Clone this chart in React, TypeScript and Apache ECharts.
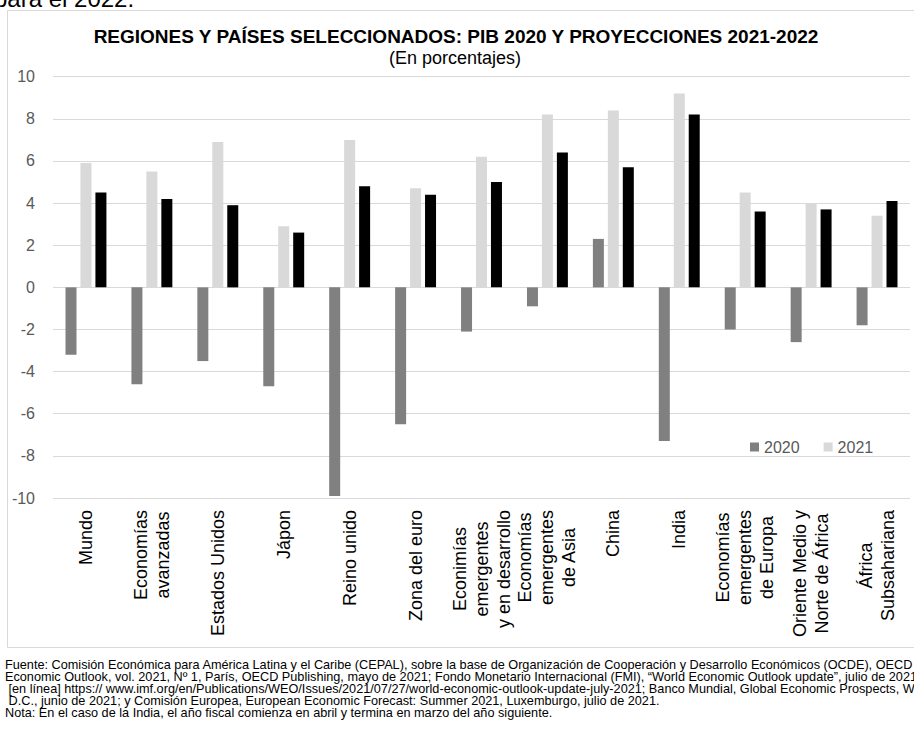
import React, { useEffect, useRef } from 'react';
import * as echarts from 'echarts';

const categories = [
  'Mundo',
  'Economías\navanzadas',
  'Estados Unidos',
  'Jápon',
  'Reino unido',
  'Zona del euro',
  'Econimías\nemergentes\ny en desarrollo',
  'Economías\nemergentes\nde Asia',
  'China',
  'India',
  'Economías\nemergentes\nde Europa',
  'Oriente Medio y\nNorte de África',
  'África\nSubsahariana',
];
const pib2020 = [-3.2, -4.6, -3.5, -4.7, -9.9, -6.5, -2.1, -0.9, 2.3, -7.3, -2.0, -2.6, -1.8];
const pib2021 = [5.9, 5.5, 6.9, 2.9, 7.0, 4.7, 6.2, 8.2, 8.4, 9.2, 4.5, 4.0, 3.4];
const pib2022 = [4.5, 4.2, 3.9, 2.6, 4.8, 4.4, 5.0, 6.4, 5.7, 8.2, 3.6, 3.7, 4.1];
const seriesNames = ['2020', '2021', '2022'];
const legendNames = ['2020', '2021'];
const yMin = -10;
const yMax = 10;
const yStep = 2;

const titleText = 'REGIONES Y PAÍSES SELECCIONADOS: PIB 2020 Y PROYECCIONES 2021-2022';
const subtitleText = '(En porcentajes)';
const noteLines = [
  'Fuente: Comisión Económica para América Latina y el Caribe (CEPAL), sobre la base de Organización de Cooperación y Desarrollo Económicos (OCDE), OECD',
  'Economic Outlook, vol. 2021, Nº 1, París, OECD Publishing, mayo de 2021; Fondo Monetario Internacional (FMI), “World Economic Outlook update”, julio de 2021,',
  ' [en línea] https:// www.imf.org/en/Publications/WEO/Issues/2021/07/27/world-economic-outlook-update-july-2021; Banco Mundial, Global Economic Prospects, Washington,',
  ' D.C., junio de 2021; y Comisión Europea, European Economic Forecast: Summer 2021, Luxemburgo, julio de 2021.',
  'Nota: En el caso de la India, el año fiscal comienza en abril y termina en marzo del año siguiente.',
];
const topCutText = 'para el 2022.';

const FONT = "'Liberation Sans', Arial, sans-serif";

export default function App() {
  const ref = useRef<HTMLDivElement>(null);
  useEffect(() => {
    if (!ref.current) return;
    const chart = echarts.init(ref.current, undefined, { renderer: 'svg' });
    const colors = ['#808080', '#d9d9d9', '#000000'];
    const datasets = [pib2020, pib2021, pib2022];
    chart.setOption({
      animation: false,
      backgroundColor: '#ffffff',
      grid: { left: 53, right: 4, top: 76.7, bottom: 234, containLabel: false },
      legend: {
        data: legendNames,
        left: 745,
        top: 434,
        icon: 'rect',
        itemWidth: 9,
        itemHeight: 9,
        itemGap: 24,
        textStyle: { color: '#595959', fontSize: 16, fontFamily: FONT },
      },
      xAxis: {
        type: 'category',
        data: categories,
        axisLine: { show: false, onZero: false },
        axisTick: { show: false },
        splitLine: { show: false },
        axisLabel: {
          interval: 0,
          rotate: 90,
          margin: 12,
          formatter: (v: string) => v.split('\n').map((l) => `{c|${l}}`).join('\n'),
          rich: {
            c: { align: 'center', fontSize: 18, lineHeight: 22, color: '#000', fontFamily: FONT },
          },
        },
      },
      yAxis: {
        type: 'value',
        min: yMin,
        max: yMax,
        interval: yStep,
        axisLine: { show: false },
        axisTick: { show: false },
        splitLine: { lineStyle: { color: '#d9d9d9', width: 1 } },
        axisLabel: { color: '#595959', fontSize: 16, fontFamily: FONT, margin: 18 },
      },
      series: seriesNames.map((name, i) => ({
        name,
        type: 'bar',
        data: datasets[i],
        barWidth: 11,
        barGap: '36%',
        itemStyle: { color: colors[i] },
        z: 3,
      })),
      graphic: [
        {
          type: 'rect',
          shape: { x: 7.5, y: 10.5, width: 1000, height: 637 },
          style: { fill: 'none', stroke: '#d9d9d9', lineWidth: 1 },
          silent: true,
          z: 1,
        },
        {
          type: 'text',
          x: -6,
          y: 10,
          style: { text: topCutText, fontSize: 24, fontFamily: FONT, fill: '#000', textAlign: 'left', textVerticalAlign: 'bottom', align: 'left', verticalAlign: 'bottom' },
          z: 10,
        },
        {
          type: 'text',
          x: 456,
          y: 36,
          style: { text: titleText, fontSize: 19, fontWeight: 'bold', fontFamily: FONT, fill: '#000', textAlign: 'center', textVerticalAlign: 'middle', align: 'center', verticalAlign: 'middle' },
          z: 10,
        },
        {
          type: 'text',
          x: 455,
          y: 58,
          style: { text: subtitleText, fontSize: 18, fontFamily: FONT, fill: '#000', textAlign: 'center', textVerticalAlign: 'middle', align: 'center', verticalAlign: 'middle' },
          z: 10,
        },
        {
          type: 'text',
          x: 5,
          y: 659,
          style: { text: noteLines.join('\n'), fontSize: 12.7, lineHeight: 12, fontFamily: FONT, fill: '#000', textAlign: 'left', textVerticalAlign: 'top', align: 'left', verticalAlign: 'top' },
          z: 10,
        },
      ],
    });
    return () => chart.dispose();
  }, []);
  return <div ref={ref} style={{ position: 'fixed', left: 0, top: 0, width: 914, height: 732 }} />;
}
